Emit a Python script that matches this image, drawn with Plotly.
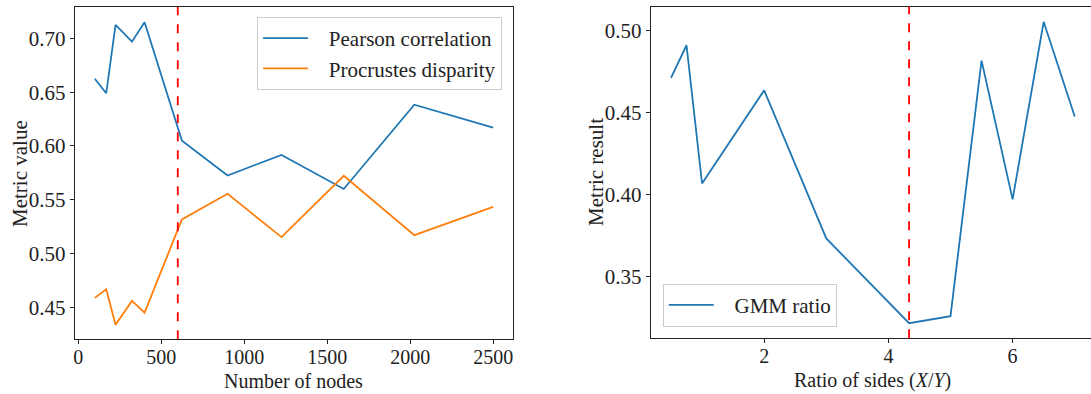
import plotly.graph_objects as go

# Left panel: metrics against graph size
num_nodes = [100, 169, 225, 324, 400, 625, 900, 1225, 1600, 2025, 2500]
pearson_corr = [0.6625, 0.649, 0.7125, 0.697, 0.715, 0.6048, 0.5725, 0.5917, 0.560, 0.6383, 0.617]
procrustes_disp = [0.4587, 0.4668, 0.4338, 0.4559, 0.445, 0.5317, 0.5555, 0.5152, 0.5722, 0.517, 0.5434]
opt_nodes = 600

# Right panel: GMM ratio against aspect ratio of the domain
side_ratio = [0.5, 0.75, 1.0, 2.0, 3.0, 4.333, 5.0, 5.5, 6.0, 6.5, 7.0]
gmm_ratio = [0.4713, 0.4912, 0.4069, 0.4637, 0.3734, 0.3217, 0.326, 0.4818, 0.3972, 0.5055, 0.4478]
opt_ratio = 4.333

W, H = 1091, 394
BLUE, ORANGE = "#1f77b4", "#ff7f0e"
FONT = "Liberation Serif"
TXT = "#222222"
FS = 21
FSX = 20  # x tick labels and x titles, a touch smaller to fit the bottom strip
PAD = "&nbsp;&nbsp;&nbsp;"  # gap between legend line and its label

fig = go.Figure()
fig.add_trace(go.Scatter(x=num_nodes, y=pearson_corr, mode="lines", name=PAD + "Pearson correlation",
                         line=dict(color=BLUE, width=1.8), xaxis="x", yaxis="y", legend="legend"))
fig.add_trace(go.Scatter(x=num_nodes, y=procrustes_disp, mode="lines", name=PAD + "Procrustes disparity",
                         line=dict(color=ORANGE, width=1.8), xaxis="x", yaxis="y", legend="legend"))
fig.add_trace(go.Scatter(x=side_ratio, y=gmm_ratio, mode="lines", name=PAD + "GMM ratio",
                         line=dict(color=BLUE, width=1.8), xaxis="x2", yaxis="y2", legend="legend2"))

# vertical markers for the chosen values
fig.add_shape(type="line", xref="x", yref="y domain", x0=opt_nodes, x1=opt_nodes, y0=0, y1=1,
              line=dict(color="#ff0000", width=1.8, dash="dash"))
fig.add_shape(type="line", xref="x2", yref="y2 domain", x0=opt_ratio, x1=opt_ratio, y0=0, y1=1,
              line=dict(color="#ff0000", width=1.8, dash="dash"))

axis_common = dict(showgrid=False, zeroline=False, showline=True, linecolor="#222222", linewidth=1.2,
                   ticks="outside", ticklen=4, tickwidth=1, tickcolor="#222222")
yfont = dict(family=FONT, size=FS, color=TXT)
xfont = dict(family=FONT, size=FSX, color=TXT)

y_bot, y_top = 1 - 339.3 / H, 1 - 7 / H

legend_common = dict(bgcolor="rgba(255,255,255,0.8)", bordercolor="#cccccc", borderwidth=1,
                     itemwidth=45, tracegroupgap=0,
                     font=dict(family=FONT, size=FS, color=TXT))

fig.update_layout(
    width=W, height=H, margin=dict(l=0, r=0, t=0, b=0),
    paper_bgcolor="white", plot_bgcolor="white",
    font=dict(family=FONT, size=FS, color=TXT),
    xaxis=dict(**axis_common, tickfont=xfont, ticklabelstandoff=-4, domain=[73 / W, 512 / W],
               range=[-20, 2620], mirror=True, tickvals=[0, 500, 1000, 1500, 2000, 2500], anchor="y"),
    yaxis=dict(**axis_common, tickfont=yfont, domain=[y_bot, y_top], range=[0.4202, 0.7292], mirror=True,
               tickvals=[0.45, 0.50, 0.55, 0.60, 0.65, 0.70], tickformat=".2f", anchor="x"),
    xaxis2=dict(**axis_common, tickfont=xfont, ticklabelstandoff=-4, domain=[650 / W, 1.0],
                range=[0.175, 7.262], mirror=True, tickvals=[2, 4, 6], anchor="y2"),
    yaxis2=dict(**axis_common, tickfont=yfont, domain=[1 - 338.3 / H, 1 - 6.7 / H], range=[0.3125, 0.5147],
                tickvals=[0.35, 0.40, 0.45, 0.50], tickformat=".2f", anchor="x2"),
    legend=dict(**legend_common, x=501 / W, y=1 - 17 / H, xanchor="right", yanchor="top"),
    legend2=dict(**legend_common, x=662 / W, y=1 - 326.7 / H, xanchor="left", yanchor="bottom"),
    annotations=[
        dict(text="Number of nodes", xref="paper", yref="paper", x=292.5 / W, y=0,
             showarrow=False, xanchor="center", yanchor="bottom", font=xfont),
        dict(text="Metric value", xref="paper", yref="paper", x=18 / W, y=1 - 173 / H,
             showarrow=False, textangle=-90, xanchor="center", yanchor="middle"),
        dict(text="Ratio of sides (<i>X</i>/<i>Y</i>)", xref="paper", yref="paper", x=872.5 / W, y=0,
             showarrow=False, xanchor="center", yanchor="bottom", font=xfont),
        dict(text="Metric result", xref="paper", yref="paper", x=595 / W, y=1 - 172 / H,
             showarrow=False, textangle=-90, xanchor="center", yanchor="middle"),
    ],
)

fig.write_html("out.html")
